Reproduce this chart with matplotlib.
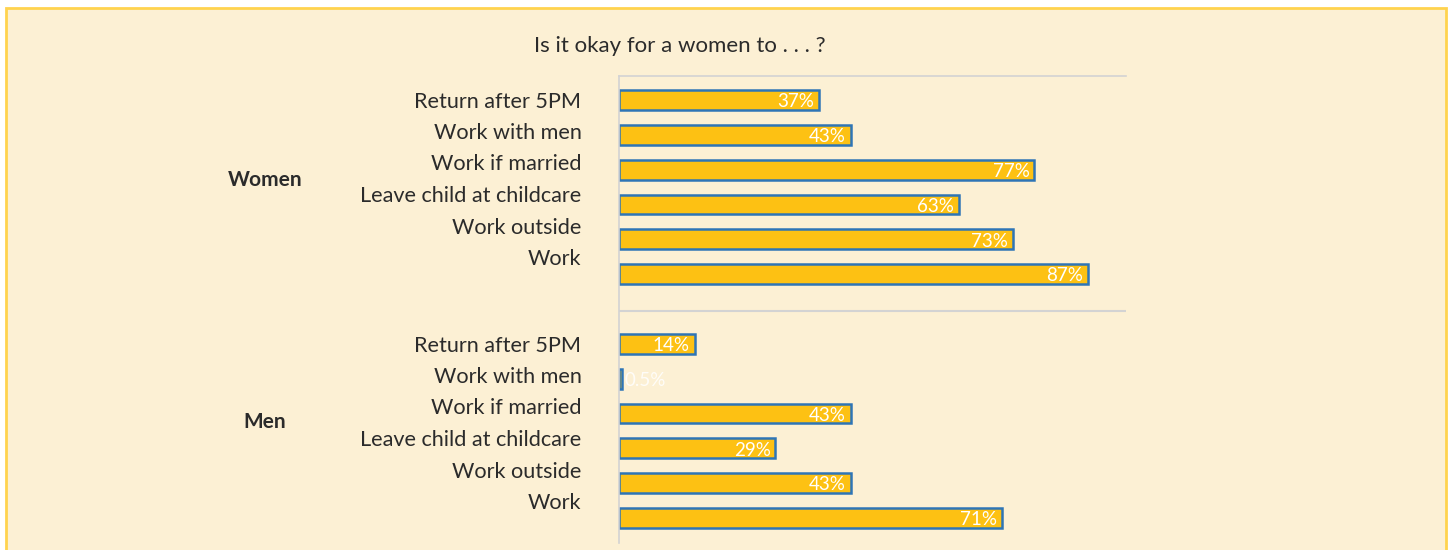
import matplotlib.pyplot as plt
from matplotlib.patches import Rectangle
from matplotlib.transforms import blended_transform_factory

# data
questions = ["Return after 5PM", "Work with men", "Work if married",
             "Leave child at childcare", "Work outside", "Work"]
groups = ["Women", "Men"]
women_vals = [37, 43, 77, 63, 73, 87]
men_vals = [14, 0.5, 43, 29, 43, 71]
value_labels_w = ["37%", "43%", "77%", "63%", "73%", "87%"]
value_labels_m = ["14%", "0.5%", "43%", "29%", "43%", "71%"]

bg = "#FCF0D4"
bar_fill = "#FDC113"
bar_edge = "#2E75B6"
txt = "#2B2B2B"
grid = "#D3D3D3"

plt.rcParams['font.family'] = ['Lato', 'DejaVu Sans']

fig = plt.figure(figsize=(14.5, 5.5), dpi=100)
fig.patch.set_facecolor("white")
fig.patches.append(Rectangle((6 / 1450, -0.05), 1440 / 1450, 1 - 8 / 550 + 0.05,
                             transform=fig.transFigure, facecolor=bg,
                             edgecolor="#FFD34E", linewidth=2, zorder=-5))

# axes box in pixels: x 619..1126, y 76..543
ax = fig.add_axes([619 / 1450, 1 - 543 / 550, (1126 - 619) / 1450, (543 - 76) / 550])
ax.set_facecolor("none")

pos_w = [0, 1, 2, 3, 4, 5]
pos_m = [7, 8, 9, 10, 11, 12]
ax.barh(pos_w, women_vals, height=0.57, color=bar_fill, edgecolor=bar_edge, linewidth=1.8)
ax.barh(pos_m, men_vals, height=0.57, color=bar_fill, edgecolor=bar_edge, linewidth=1.8)

for p, v, s in zip(pos_w + pos_m, women_vals + men_vals, value_labels_w + value_labels_m):
    if v < 5:
        ax.text(v + 0.6, p + 0.05, s, ha="left", va="center", color="white",
                fontsize=13.5, alpha=0.85)
    else:
        ax.text(v - 0.9, p + 0.05, s, ha="right", va="center", color="white", fontsize=13.5)

ax.set_xlim(0, 94)
ax.set_ylim(12.72, -0.69)

# question labels sit slightly off the bars, like the original
label_pos = [0, 0.89, 1.78, 2.7, 3.62, 4.51]
ax.set_yticks(label_pos + [7 + p for p in label_pos])
ax.set_yticklabels(questions + questions, fontsize=15.6, color=txt)
ax.tick_params(axis="y", length=0, pad=27)
ax.set_xticks([])

for s in ["right", "bottom"]:
    ax.spines[s].set_visible(False)
for s in ["left", "top"]:
    ax.spines[s].set_color(grid)
    ax.spines[s].set_linewidth(1.2)
ax.axhline(6.06, color=grid, linewidth=1.5)

tr = blended_transform_factory(fig.transFigure, ax.transData)
ax.text(265 / 1450, 2.3, groups[0], transform=tr, ha="center", va="center",
        fontsize=15, fontweight="bold", color=txt)
ax.text(265 / 1450, 9.25, groups[1], transform=tr, ha="center", va="center",
        fontsize=15, fontweight="bold", color=txt)

fig.text(680 / 1450, 1 - 46 / 550, "Is it okay for a women to . . . ?", ha="center",
         va="center", fontsize=16, color=txt)

fig.savefig("out.png", dpi=100)
